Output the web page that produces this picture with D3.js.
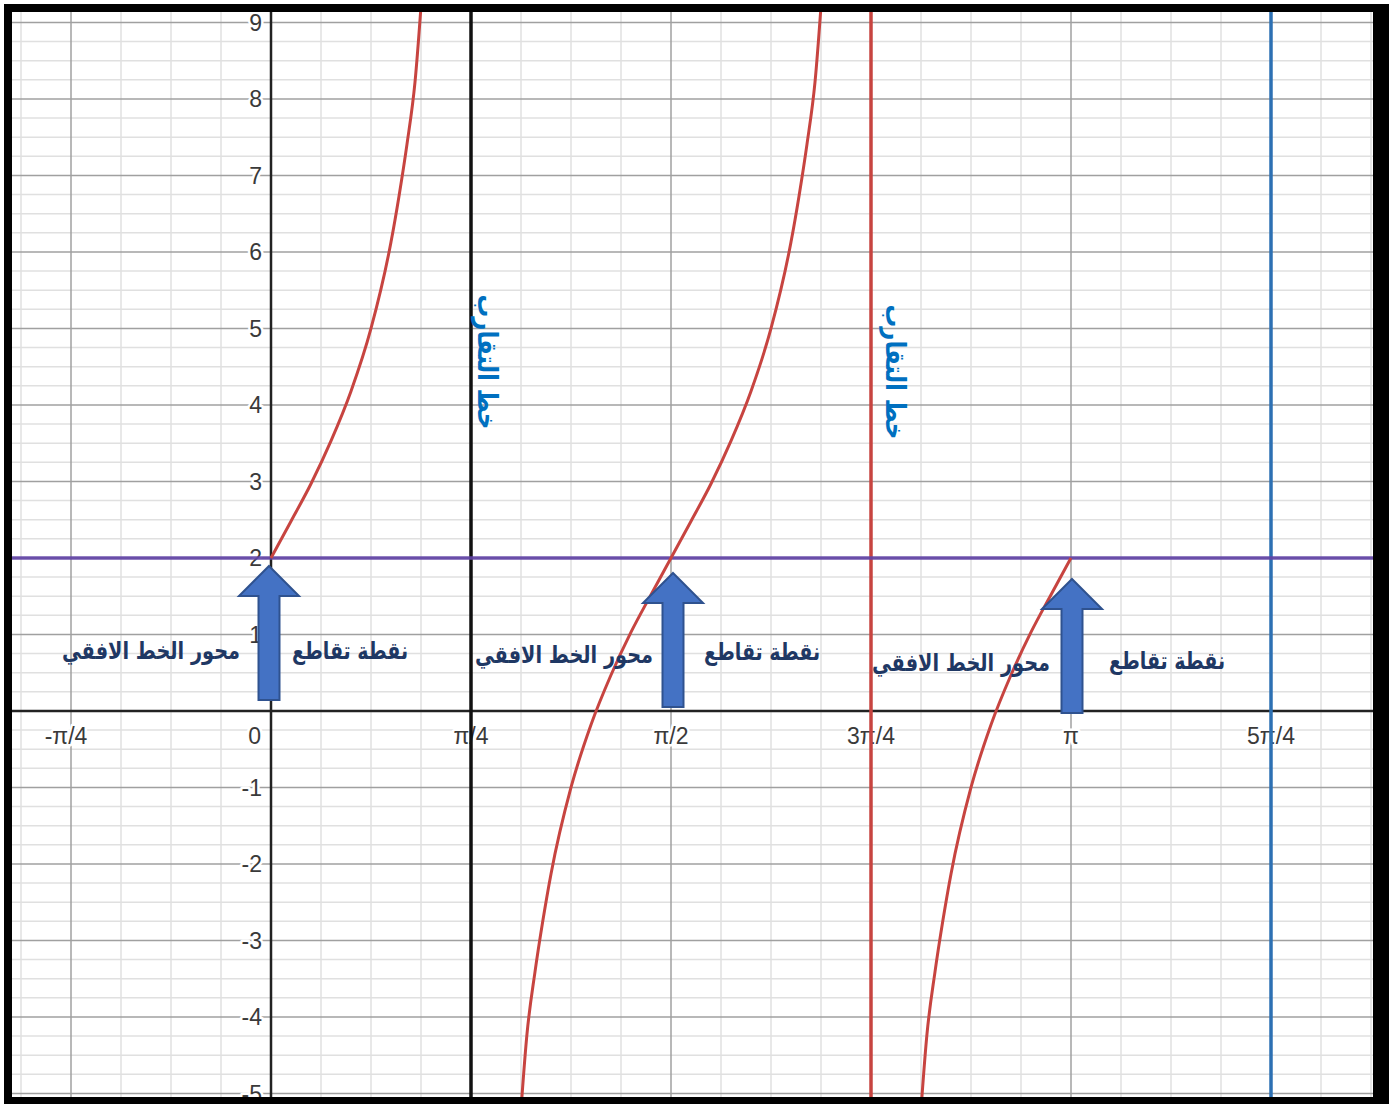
<!DOCTYPE html>
<html>
<head>
<meta charset="utf-8">
<script src="https://cdn.jsdelivr.net/npm/d3@7"></script>
<style>
  body { margin: 0; background: #fff; }
  svg { display: block; }
  .tick-label { font-family: "Liberation Sans", Arial, sans-serif; font-size: 23px; fill: #3a3a3a;
                stroke: #fff; stroke-width: 5px; paint-order: stroke; stroke-linejoin: round; }
  .ar { font-family: "DejaVu Sans", sans-serif; font-weight: bold; }
</style>
</head>
<body>
<svg id="chart" width="1389" height="1104"></svg>
<script>
// y = 2 + 3 tan(2x), x in multiples of pi

const xTickValues = [-0.25, 0, 0.25, 0.5, 0.75, 1, 1.25];
const xTickLabels = ["-π/4", "0", "π/4", "π/2", "3π/4", "π", "5π/4"];
const yTickValues = [-5, -4, -3, -2, -1, 1, 2, 3, 4, 5, 6, 7, 8, 9];

// red curve, three branches [x/pi, y]
const branch1 = [[0, 2], [0.025, 2.48], [0.05, 2.97], [0.075, 3.53], [0.1, 4.18], [0.125, 5],
  [0.15, 6.13], [0.16, 6.73], [0.17, 7.41], [0.18, 8.22], [0.19, 9.58]];
const branch2 = [[0.31, -5.58], [0.32, -4.22], [0.33, -3.41], [0.34, -2.73], [0.35, -2.13],
  [0.375, -1], [0.4, -0.18], [0.425, 0.47], [0.45, 1.03], [0.475, 1.52], [0.5, 2],
  [0.525, 2.48], [0.55, 2.97], [0.575, 3.53], [0.6, 4.18], [0.625, 5], [0.65, 6.13],
  [0.66, 6.73], [0.67, 7.41], [0.68, 8.22], [0.69, 9.58]];
const branch3 = [[0.81, -5.58], [0.82, -4.22], [0.83, -3.41], [0.84, -2.73], [0.85, -2.13],
  [0.875, -1], [0.9, -0.18], [0.925, 0.47], [0.95, 1.03], [0.975, 1.52], [1, 2]];

const horizontalY = 2;                 // purple line
const asymptoteBlack = 0.25;           // x = pi/4
const asymptoteRed = 0.75;             // x = 3pi/4
const blueLineX = 1.25;                // x = 5pi/4
const intersections = [0, 0.5, 1];     // points (x, 2) that the arrows mark

const labelPoint = "نقطة تقاطع";
const labelAxis = "محور الخط الافقي";
const labelAsym = "خط التقارب";

const W = 1389, H = 1104;
const PLOT = { left: 12, top: 12, right: 1373, bottom: 1097 };

const svg = d3.select('#chart');

const x = d3.scaleLinear().domain([-0.32375, 1.3775]).range([PLOT.left, PLOT.right]);
const y = d3.scaleLinear().domain([-5.046, 9.137]).range([PLOT.bottom, PLOT.top]);

// frame
svg.append('rect').attr('x', 4).attr('y', 4).attr('width', W - 4).attr('height', H - 4).attr('fill', '#000');
svg.append('rect').attr('x', PLOT.left).attr('y', PLOT.top)
  .attr('width', PLOT.right - PLOT.left).attr('height', PLOT.bottom - PLOT.top).attr('fill', '#fff');

svg.append('clipPath').attr('id', 'clip').append('rect')
  .attr('x', PLOT.left).attr('y', PLOT.top)
  .attr('width', PLOT.right - PLOT.left).attr('height', PLOT.bottom - PLOT.top);

const g = svg.append('g').attr('clip-path', 'url(#clip)');

// grid
const minorX = d3.range(-5, 23).map(k => k / 16).filter(v => v * 4 % 1 !== 0);
const majorX = d3.range(-1, 6).map(k => k / 4).filter(v => v !== 0);
const minorY = d3.range(-20, 37).map(k => k / 4).filter(v => v % 1 !== 0);
const majorY = d3.range(-5, 10).filter(v => v !== 0);

g.append('g').selectAll('line').data(minorX).join('line')
  .attr('x1', d => x(d)).attr('x2', d => x(d)).attr('y1', PLOT.top).attr('y2', PLOT.bottom)
  .attr('stroke', '#e0e0e0').attr('stroke-width', 1.5);
g.append('g').selectAll('line').data(minorY).join('line')
  .attr('y1', d => y(d)).attr('y2', d => y(d)).attr('x1', PLOT.left).attr('x2', PLOT.right)
  .attr('stroke', '#e0e0e0').attr('stroke-width', 1.5);
g.append('g').selectAll('line').data(majorX).join('line')
  .attr('x1', d => x(d)).attr('x2', d => x(d)).attr('y1', PLOT.top).attr('y2', PLOT.bottom)
  .attr('stroke', '#a0a0a0').attr('stroke-width', 1.5);
g.append('g').selectAll('line').data(majorY).join('line')
  .attr('y1', d => y(d)).attr('y2', d => y(d)).attr('x1', PLOT.left).attr('x2', PLOT.right)
  .attr('stroke', '#a0a0a0').attr('stroke-width', 1.5);

// tick labels
g.append('g').selectAll('text').data(yTickValues).join('text')
  .attr('class', 'tick-label')
  .attr('x', x(0) - 9).attr('y', d => y(d)).attr('dy', '0.36em')
  .attr('text-anchor', 'end')
  .text(d => d);
g.append('g').selectAll('text').data(xTickValues).join('text')
  .attr('class', 'tick-label')
  .attr('x', (d, i) => d === 0 ? x(0) - 10 : x(d) + (d < 0 ? -5 : 0))
  .attr('y', y(0) + 33)
  .attr('text-anchor', d => d === 0 ? 'end' : 'middle')
  .text((d, i) => xTickLabels[i]);

// axes
g.append('line').attr('x1', PLOT.left).attr('x2', PLOT.right).attr('y1', y(0)).attr('y2', y(0))
  .attr('stroke', '#222').attr('stroke-width', 2.5);
g.append('line').attr('x1', x(0)).attr('x2', x(0)).attr('y1', PLOT.top).attr('y2', PLOT.bottom)
  .attr('stroke', '#222').attr('stroke-width', 2.5);

// vertical lines
const vline = (v, color, w) => g.append('line')
  .attr('x1', x(v)).attr('x2', x(v)).attr('y1', PLOT.top).attr('y2', PLOT.bottom)
  .attr('stroke', color).attr('stroke-width', w);
vline(asymptoteBlack, '#111', 3.5);
vline(asymptoteRed, '#c74440', 3.5);
vline(blueLineX, '#2d70b3', 3.5);

// horizontal y = 2
g.append('line').attr('x1', PLOT.left).attr('x2', PLOT.right)
  .attr('y1', y(horizontalY)).attr('y2', y(horizontalY))
  .attr('stroke', '#6042a6').attr('stroke-width', 3.5).attr('stroke-opacity', 0.9);

// curve
const line = d3.line().x(d => x(d[0])).y(d => y(d[1])).curve(d3.curveMonotoneX);
g.selectAll('path.branch').data([branch1, branch2, branch3]).join('path')
  .attr('class', 'branch')
  .attr('d', line)
  .attr('fill', 'none').attr('stroke', '#c74440').attr('stroke-width', 3);

// asymptote labels (rotated)
const asymLayout = [{ v: asymptoteBlack, dx: 16, cy: 362 }, { v: asymptoteRed, dx: 24, cy: 372 }];
svg.append('g').selectAll('text').data(asymLayout).join('text')
  .attr('class', 'ar')
  .attr('transform', d => `translate(${x(d.v) + d.dx},${d.cy}) rotate(90)`)
  .attr('text-anchor', 'middle').attr('dy', '0.35em')
  .attr('font-size', 27).attr('fill', '#0070c0')
  .attr('textLength', 135).attr('lengthAdjust', 'spacingAndGlyphs')
  .text(labelAsym);

// arrows and their labels
const arrowLayout = [
  { dx: -2, tip: 8, right: 79, left: -120, ly: 651, ly2: 651 },
  { dx: 2, tip: 15, right: 91, left: -107, ly: 652, ly2: 655 },
  { dx: 1, tip: 21, right: 96, left: -110, ly: 661, ly2: 663 }
];
const arrows = svg.append('g');
intersections.forEach((px, i) => {
  const a = arrowLayout[i];
  const cx = x(px) + a.dx;
  const ty = y(horizontalY) + a.tip;
  const len = 134, headH = 30, headW = 30, shaftW = 10.5;
  const pts = [
    [cx, ty], [cx + headW, ty + headH], [cx + shaftW, ty + headH], [cx + shaftW, ty + len],
    [cx - shaftW, ty + len], [cx - shaftW, ty + headH], [cx - headW, ty + headH]
  ];
  arrows.append('polygon')
    .attr('points', pts.map(p => p.join(',')).join(' '))
    .attr('fill', '#4472c4').attr('stroke', '#2f528f').attr('stroke-width', 2);
  arrows.append('text').attr('class', 'ar')
    .attr('x', x(px) + a.right).attr('y', a.ly).attr('dy', '0.35em')
    .attr('text-anchor', 'middle').attr('font-size', 24).attr('fill', '#1f3864')
    .attr('textLength', 116).attr('lengthAdjust', 'spacingAndGlyphs')
    .text(labelPoint);
  arrows.append('text').attr('class', 'ar')
    .attr('x', x(px) + a.left).attr('y', a.ly2).attr('dy', '0.35em')
    .attr('text-anchor', 'middle').attr('font-size', 24).attr('fill', '#1f3864')
    .attr('textLength', 178).attr('lengthAdjust', 'spacingAndGlyphs')
    .text(labelAxis);
});
</script>
</body>
</html>
